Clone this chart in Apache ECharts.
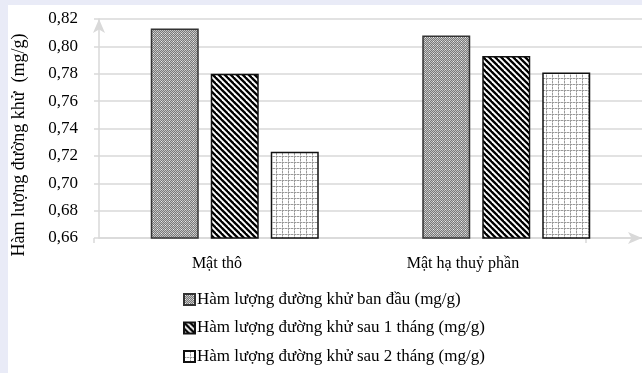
<!DOCTYPE html>
<html>
<head>
<meta charset="utf-8">
<script src="https://cdn.jsdelivr.net/npm/echarts@6/dist/echarts.min.js"></script>
<style>
html,body{margin:0;padding:0;background:#fff;}
#chart{width:642px;height:373px;}
</style>
</head>
<body>
<div id="chart"></div>
<script>
var categories = ['Mật thô', 'Mật hạ thuỷ phần'];
var seriesNames = [
  'Hàm lượng đường khử ban đầu (mg/g)',
  'Hàm lượng đường khử sau 1 tháng (mg/g)',
  'Hàm lượng đường khử sau 2 tháng (mg/g)'
];
var initialValues = [0.813, 0.808];
var after1Month = [0.780, 0.793];
var after2Months = [0.723, 0.781];
var yMin = 0.66, yMax = 0.82, yStep = 0.02;
var yAxisName = 'Hàm lượng đường khử  (mg/g)';

function makeCanvas(w, h, draw) {
  var c = document.createElement('canvas');
  c.width = w; c.height = h;
  var ctx = c.getContext('2d');
  draw(ctx, w, h);
  return c;
}
var pat1 = makeCanvas(4, 4, function (ctx, w, h) {
  ctx.fillStyle = '#7a7a7a'; ctx.fillRect(0, 0, w, h);
  ctx.fillStyle = '#c4c4c4';
  for (var x = 0; x < w; x++) for (var y = 0; y < h; y++) {
    if ((x + y) % 2 === 0) ctx.fillRect(x, y, 1, 1);
  }
  ctx.fillStyle = '#eeeeee'; ctx.fillRect(1, 1, 1, 1);
});
var pat2 = makeCanvas(6, 6, function (ctx, w, h) {
  ctx.fillStyle = '#ffffff'; ctx.fillRect(0, 0, w, h);
  ctx.strokeStyle = '#000000'; ctx.lineWidth = 2.3;
  for (var k = -1; k <= 1; k++) {
    ctx.beginPath();
    ctx.moveTo(k * w - 1, -1); ctx.lineTo(k * w + w + 1, h + 1);
    ctx.stroke();
  }
});
var pat3 = makeCanvas(6, 6, function (ctx, w, h) {
  ctx.fillStyle = '#ffffff'; ctx.fillRect(0, 0, w, h);
  ctx.fillStyle = '#d0d0d0';
  ctx.fillRect(0, 0, 1, h); ctx.fillRect(0, 0, w, 1);
  ctx.fillStyle = '#9a9a9a';
  for (var i = 0; i < 6; i++) {
    if (i % 3 !== 2) { ctx.fillRect(0, i, 1, 1); ctx.fillRect(i, 0, 1, 1); }
  }
});
var patterns = [pat1, pat2, pat3];
var dataSets = [initialValues, after1Month, after2Months];

var serif = 'Liberation Serif, Times New Roman, serif';
var axisGray = '#d9d9d9';

var chart = echarts.init(document.getElementById('chart'), null, {renderer: 'canvas'});
var series = dataSets.map(function (d, i) {
  return {
    name: seriesNames[i],
    type: 'bar',
    xAxisIndex: 0, yAxisIndex: 0,
    data: d,
    barWidth: 48,
    barGap: '25%',
    itemStyle: {
      color: {image: patterns[i], repeat: 'repeat'},
      borderColor: i === 0 ? '#333333' : '#111111',
      borderWidth: 1.5
    },
    emphasis: {disabled: true}
  };
});

chart.setOption({
  backgroundColor: '#ffffff',
  animation: false,
  graphic: [
    {type: 'rect', shape: {x: 0, y: 0, width: 642, height: 5}, style: {fill: '#e9ebf7'}, silent: true},
    {type: 'rect', shape: {x: 0, y: 0, width: 8, height: 373}, style: {fill: '#e9ebf7'}, silent: true},
    {type: 'text', x: 19, y: 145, rotation: Math.PI / 2,
      style: {text: yAxisName, font: '18px ' + serif, fill: '#000', align: 'center', verticalAlign: 'middle'}}
  ],
  grid: [
    {left: 99, top: 19, right: 0, bottom: 135, containLabel: false},
    {left: 94, top: 19, width: 492, bottom: 135, containLabel: false}
  ],
  legend: {
    orient: 'vertical',
    left: 178, top: 286,
    itemWidth: 11, itemHeight: 11,
    itemGap: 11.5,
    selectedMode: false,
    textStyle: {fontFamily: serif, fontSize: 17, color: '#000', padding: [0, 0, 0, -3]},
    data: seriesNames.map(function (n) { return {name: n, icon: 'rect'}; })
  },
  xAxis: [
    {
      type: 'category', gridIndex: 0, data: categories,
      axisLine: {show: true, symbol: ['none', 'arrow'], symbolSize: [9, 14], lineStyle: {color: axisGray, width: 1.5}},
      axisTick: {show: false},
      axisLabel: {show: false},
      splitLine: {show: false}
    },
    {
      type: 'category', gridIndex: 1, data: categories,
      axisLine: {show: false},
      axisTick: {show: true, length: 5, lineStyle: {color: axisGray, width: 1.5},
        interval: function (idx) { return idx === 1; }},
      axisLabel: {fontFamily: serif, fontSize: 16, color: '#000', margin: 18},
      splitLine: {show: false}
    }
  ],
  yAxis: [
    {
      type: 'value', gridIndex: 0, min: yMin, max: yMax, interval: yStep,
      axisLine: {show: true, symbol: ['none', 'arrow'], symbolSize: [9, 14], lineStyle: {color: axisGray, width: 1.5}},
      axisTick: {show: true, length: 5, lineStyle: {color: axisGray, width: 1.5}},
      axisLabel: {fontFamily: serif, fontSize: 17, color: '#000', margin: 21,
        formatter: function (v) { return v.toFixed(2).replace('.', ','); }},
      splitLine: {show: true, lineStyle: {color: axisGray, width: 1.5}}
    },
    {type: 'value', gridIndex: 1, min: yMin, max: yMax, show: false}
  ],
  series: series
});
</script>
</body>
</html>
